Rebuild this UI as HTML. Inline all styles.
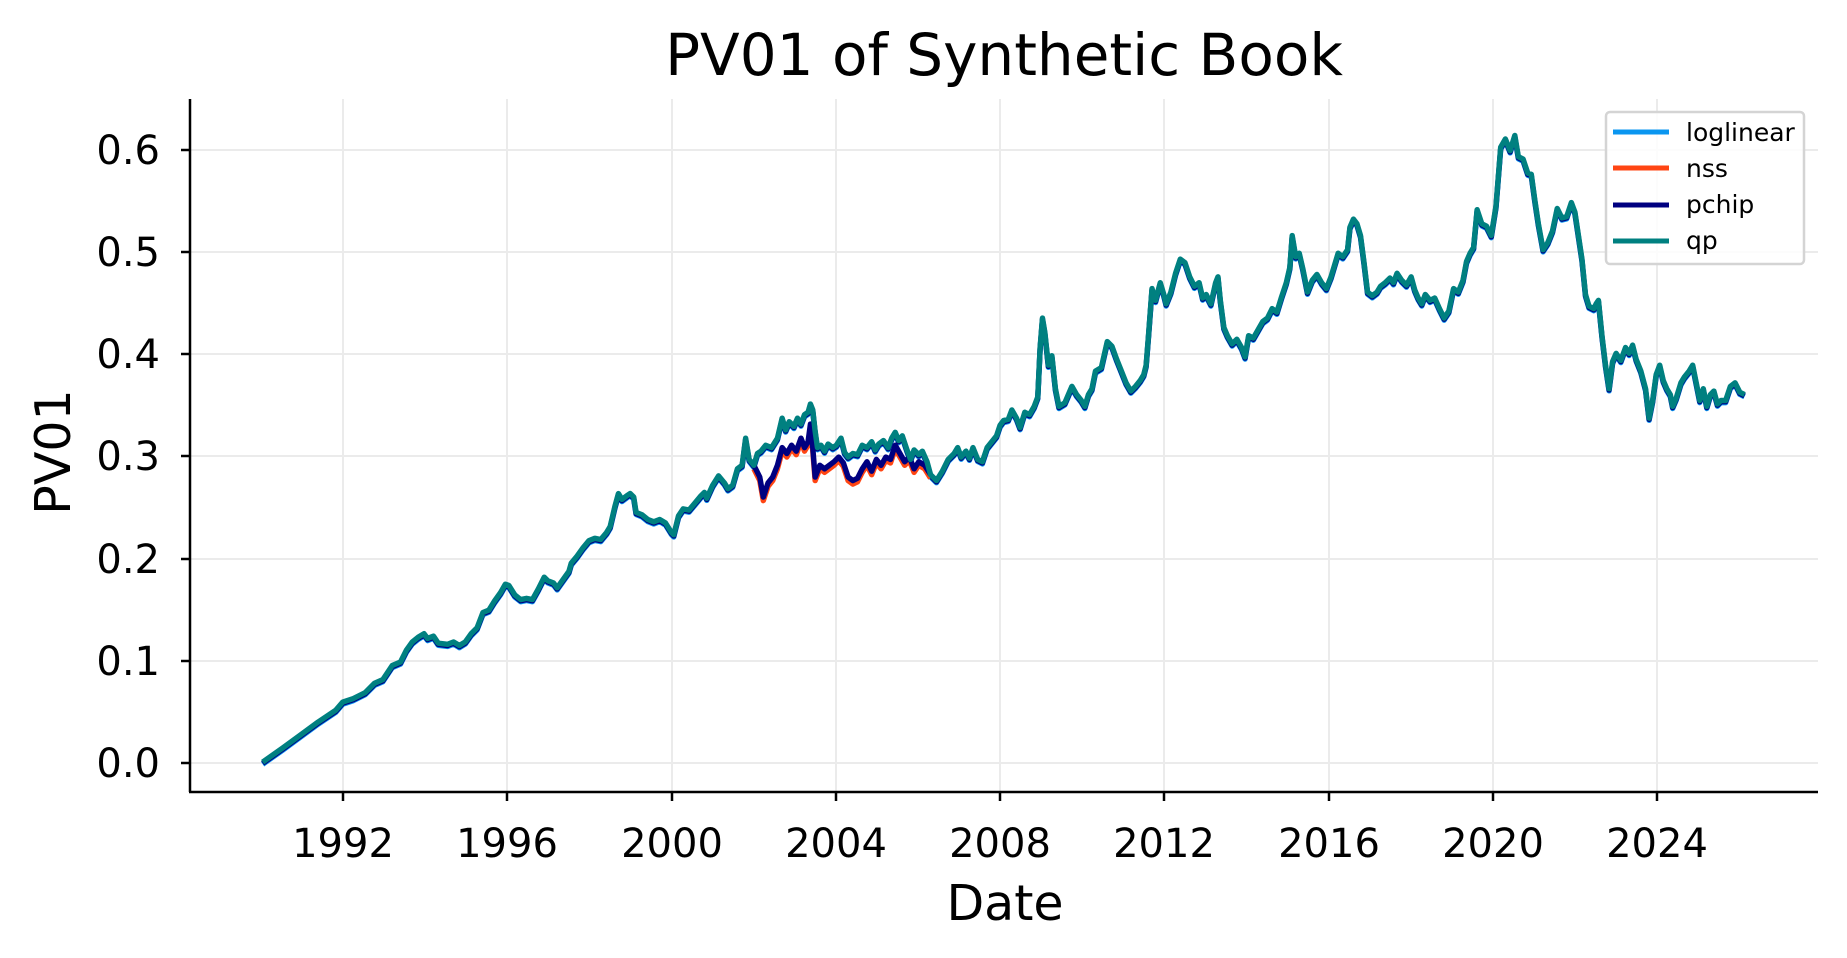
<!DOCTYPE html>
<html><head><meta charset="utf-8"><style>
html,body{margin:0;padding:0;background:#fff;}
svg{display:block;font-family:"DejaVu Sans","Liberation Sans",sans-serif;}
</style></head><body>
<svg width="1847" height="958" viewBox="0 0 1847 958" xmlns="http://www.w3.org/2000/svg">
<rect width="1847" height="958" fill="#fff"/>
<g stroke="#ebebeb" stroke-width="2">
<line x1="343" y1="99" x2="343" y2="792"/><line x1="507" y1="99" x2="507" y2="792"/><line x1="672" y1="99" x2="672" y2="792"/><line x1="836" y1="99" x2="836" y2="792"/><line x1="1000" y1="99" x2="1000" y2="792"/><line x1="1164" y1="99" x2="1164" y2="792"/><line x1="1329" y1="99" x2="1329" y2="792"/><line x1="1493" y1="99" x2="1493" y2="792"/><line x1="1657" y1="99" x2="1657" y2="792"/>
<line x1="190" y1="763" x2="1818" y2="763"/><line x1="190" y1="661" x2="1818" y2="661"/><line x1="190" y1="559" x2="1818" y2="559"/><line x1="190" y1="456" x2="1818" y2="456"/><line x1="190" y1="354" x2="1818" y2="354"/><line x1="190" y1="252" x2="1818" y2="252"/><line x1="190" y1="150" x2="1818" y2="150"/>
</g>
<g transform="scale(1.17793)" fill="none" stroke-linejoin="round" stroke-linecap="butt">
<defs>
<polyline id="q" points="223,647 240,635 255,624 270,613 285,603 291,596 300,593 310,588 318,580 325,577 333,565 340,562 345,552 350,545 355,541 360,538 363,542 368,540 372,546 380,547 385,545 390,548 395,545 400,538 405,533 410,520 415,518 420,510 425,503 429,496 432,497 437,505 442,509 447,508 452,509 457,500 462,490 465,493 470,495 473,499 478,492 483,485 485,478 490,472 495,465 500,459 505,457 510,458 515,452 518,447 522,430 525,419 528,424 532,421 535,419 538,422 540,435 545,437 550,441 555,443 560,441 565,444 570,452 572,454 576,438 580,432 585,433 590,427 595,421 598,418 600,423 605,412 610,404 615,410 618,415 622,412 626,398 630,395 633,372 636,390 640,395 643,385 646,383 650,378 655,380 660,372 664,355 667,365 670,358 674,362 677,355 680,360 683,352 686,350 688,343 690,348 692,366 694,380 697,378 700,383 703,377 707,380 710,378 714,372 717,384 720,388 724,385 728,386 732,378 736,380 740,375 743,382 746,377 750,374 754,380 757,372 760,367 763,374 766,370 770,382 773,390 776,382 780,386 783,383 787,392 790,403 795,408 800,400 805,390 810,385 813,380 816,388 820,383 823,389 826,380 830,390 834,392 838,380 842,375 846,370 849,361 852,357 856,356 859,348 863,355 866,363 870,350 874,352 878,345 881,337 883,295 885,270 887,282 890,310 893,302 896,330 899,345 904,342 907,335 910,328 914,335 918,340 921,345 924,335 927,330 930,315 935,312 940,290 944,294 948,305 952,315 956,325 960,332 964,328 968,323 971,318 973,310 975,285 978,245 981,255 985,240 988,250 990,258 994,248 998,232 1002,220 1006,223 1010,235 1014,243 1018,240 1021,253 1024,250 1028,258 1032,240 1034,235 1036,255 1039,278 1042,285 1046,292 1050,288 1054,295 1057,303 1060,285 1064,287 1068,280 1072,273 1076,270 1080,262 1084,265 1088,252 1092,240 1095,227 1097,200 1100,218 1103,215 1106,228 1110,248 1114,238 1118,233 1122,240 1126,245 1130,235 1133,225 1136,215 1140,218 1144,212 1146,193 1149,186 1152,190 1155,200 1158,223 1161,248 1165,251 1169,248 1172,243 1176,240 1180,236 1183,240 1186,232 1190,238 1194,242 1198,235 1201,246 1204,253 1207,258 1210,250 1214,255 1218,253 1222,262 1226,270 1230,264 1234,245 1238,248 1242,238 1245,222 1248,215 1251,210 1254,178 1258,190 1262,192 1266,200 1270,175 1274,125 1278,118 1282,128 1286,115 1289,133 1293,135 1297,147 1300,148 1303,170 1306,190 1310,212 1314,206 1318,196 1322,177 1326,185 1330,184 1334,172 1337,180 1340,200 1343,220 1346,250 1349,260 1353,262 1355,258 1357,255 1360,285 1363,310 1366,330 1369,307 1372,300 1376,306 1380,295 1383,300 1386,293 1389,305 1393,315 1397,330 1400,355 1403,340 1406,318 1409,310 1412,323 1415,330 1418,335 1420,345 1423,338 1427,325 1430,320 1434,315 1437,310 1440,325 1443,340 1446,330 1449,345 1452,335 1455,332 1458,343 1461,340 1465,340 1469,328 1473,325 1477,333 1481,335"/>
<polyline id="p" points="640,395 645,405 648,422 652,410 656,405 660,395 664,380 668,385 672,378 676,383 680,372 683,380 686,375 688,360 690,380 692,405 696,395 700,398 704,395 708,392 712,388 716,393 720,405 724,408 728,406 732,398 736,392 740,400 744,390 748,395 752,388 756,390 760,378 764,385 768,392 772,388 776,398 780,392 785,395 790,403"/>
</defs>
<use href="#q" stroke="#0a96f0" stroke-width="4.6" transform="translate(0,1.8)"/>
<use href="#q" stroke="#000080" stroke-width="4.6" transform="translate(0,1)"/>
<use href="#p" stroke="#ff4513" stroke-width="4.6" transform="translate(0,3)"/>
<use href="#p" stroke="#000080" stroke-width="4.6"/>
<use href="#q" stroke="#008080" stroke-width="4.6"/>
</g>
<g stroke="#000" stroke-width="2.5">
<line x1="190" y1="99" x2="190" y2="792"/><line x1="189" y1="792" x2="1818" y2="792"/>
<line x1="181" y1="763" x2="190" y2="763"/><line x1="181" y1="661" x2="190" y2="661"/><line x1="181" y1="559" x2="190" y2="559"/><line x1="181" y1="456" x2="190" y2="456"/><line x1="181" y1="354" x2="190" y2="354"/><line x1="181" y1="252" x2="190" y2="252"/><line x1="181" y1="150" x2="190" y2="150"/>
<line x1="343" y1="792" x2="343" y2="801"/><line x1="507" y1="792" x2="507" y2="801"/><line x1="672" y1="792" x2="672" y2="801"/><line x1="836" y1="792" x2="836" y2="801"/><line x1="1000" y1="792" x2="1000" y2="801"/><line x1="1164" y1="792" x2="1164" y2="801"/><line x1="1329" y1="792" x2="1329" y2="801"/><line x1="1493" y1="792" x2="1493" y2="801"/><line x1="1657" y1="792" x2="1657" y2="801"/>
</g>
<g font-size="40" fill="#000" text-anchor="end">
<text x="160" y="777">0.0</text><text x="160" y="675">0.1</text><text x="160" y="573">0.2</text><text x="160" y="470">0.3</text><text x="160" y="368">0.4</text><text x="160" y="266">0.5</text><text x="160" y="164">0.6</text>
</g>
<g font-size="40" fill="#000" text-anchor="middle">
<text x="343" y="857">1992</text><text x="507" y="857">1996</text><text x="672" y="857">2000</text><text x="836" y="857">2004</text><text x="1000" y="857">2008</text><text x="1164" y="857">2012</text><text x="1329" y="857">2016</text><text x="1493" y="857">2020</text><text x="1657" y="857">2024</text>
</g>
<text x="1005" y="920" font-size="49" text-anchor="middle">Date</text>
<text transform="translate(70,452) rotate(-90)" font-size="49" text-anchor="middle">PV01</text>
<text x="1004" y="75" font-size="58" text-anchor="middle">PV01 of Synthetic Book</text>
<rect x="1606" y="112" width="198" height="152" rx="4" fill="#fff" fill-opacity="0.85" stroke="#d4d4d4" stroke-width="2.5"/>
<g stroke-width="5">
<line x1="1613" y1="132" x2="1669" y2="132" stroke="#0a96f0"/>
<line x1="1613" y1="168" x2="1669" y2="168" stroke="#ff4513"/>
<line x1="1613" y1="205" x2="1669" y2="205" stroke="#000080"/>
<line x1="1613" y1="241" x2="1669" y2="241" stroke="#008080"/>
</g>
<g font-size="25" fill="#000">
<text x="1686" y="141">loglinear</text><text x="1686" y="177">nss</text><text x="1686" y="213">pchip</text><text x="1686" y="249">qp</text>
</g>
</svg>
</body></html>
